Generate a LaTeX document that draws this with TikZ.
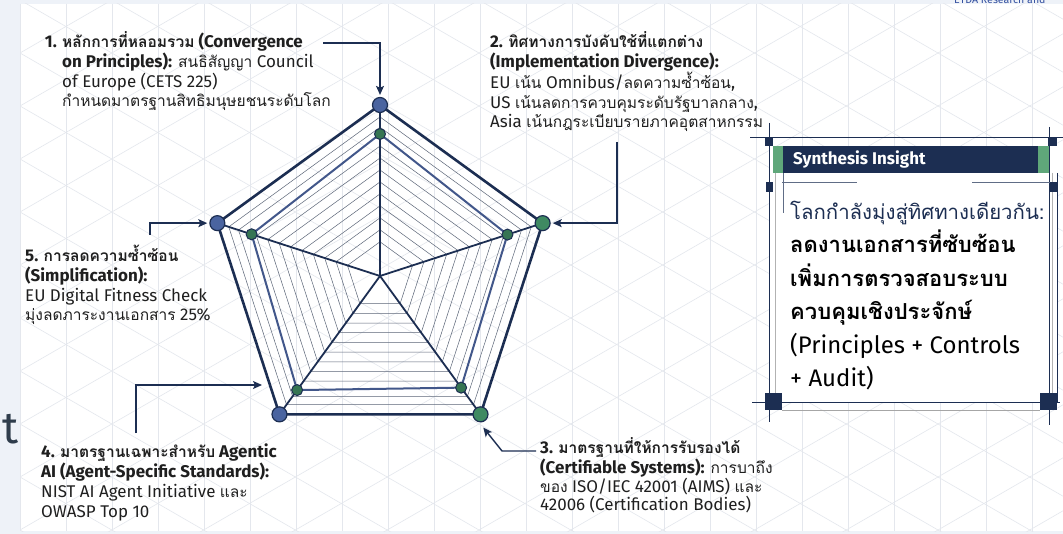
\documentclass[tikz,border=0pt]{standalone}
\usepackage{fontspec}
\setmainfont{Fira Sans}[Scale=1.06]
\newfontfamily\thaifont[Script=Thai, Scale=0.97]{Loma}
\newcommand\tha[1]{{\thaifont #1}}
\usetikzlibrary{arrows.meta,positioning,calc}
\definecolor{navy}{HTML}{1C2E52}
\definecolor{dotblue}{HTML}{4A64A0}
\definecolor{dotgreen}{HTML}{3F8A62}
\definecolor{datablue}{HTML}{42578A}
\definecolor{webgrey}{HTML}{5B6577}
\definecolor{gridgrey}{HTML}{E4E7ED}
\definecolor{pagebg}{HTML}{EEF2F8}
\definecolor{accent}{HTML}{5FA77A}
\definecolor{slate}{HTML}{2F3D4C}
\definecolor{etdablue}{HTML}{3350A0}
\tikzset{
callout/.style = {anchor=base west, align=left, inner sep=0pt, text=black!88, font=\fontsize{16}{19.7}\selectfont},
vertex/.style = {draw=navy, line width=1.2pt, circle, minimum size=15pt, inner sep=0pt},
datapt/.style = {draw=navy, line width=1pt, circle, fill=dotgreen!85!black, minimum size=11pt, inner sep=0pt},
link/.style = {draw=navy, line width=1.4pt, ->, shorten >=2pt},
web/.style = {draw=webgrey, line width=0.5pt},
tmp/.style = {coordinate}
}
\begin{document}
\begin{tikzpicture}[x=1pt, y=-1pt, >={Stealth[length=9pt,width=8pt,inset=2pt]}]
\useasboundingbox (0,0) rectangle (1063,534);

% page and grid paper
\fill[pagebg] (0,0) rectangle (1063,534);
\fill[white] (20,4) rectangle (1063,531);
\begin{scope}
  \clip (20,4) rectangle (1063,531);
  \foreach \gx in {20,66,...,1070}
    \draw[gridgrey, line width=0.6pt] (\gx,4) -- (\gx,531);
  \foreach \gy in {-636,-583,...,1170} {
    \draw[gridgrey, line width=0.6pt] (20,\gy) -- ++(1060,612);
    \draw[gridgrey, line width=0.6pt] (20,\gy) -- ++(1060,-612);
  }
\end{scope}
\node[anchor=base east, inner sep=0pt, text=slate, font=\fontsize{42}{42}\selectfont] (tfrag) at (19,443) {t};
\node[anchor=base west, inner sep=0pt, text=etdablue, font=\fontsize{10}{10}\selectfont] (etda) at (954,3.5) {ETDA Research and};

% radar
\begin{scope}[shift={(380,276)}]
  \coordinate (ctr) at (0,0);
  \coordinate (o1) at (-90:171);
  \coordinate (o2) at (-18:171);
  \coordinate (o3) at (54:171);
  \coordinate (o4) at (126:171);
  \coordinate (o5) at (198:171);
  \coordinate (i1) at (-90:142);
  \coordinate (i2) at (-18:134);
  \coordinate (i3) at (54:138);
  \coordinate (i4) at (126:141);
  \coordinate (i5) at (198:135);
  \foreach \l in {0.20,0.27,0.34,0.41,0.48,0.55,0.62,0.69,0.76,0.87,0.93}
    \draw[web] (-90:\l*171) -- (-18:\l*171) -- (54:\l*171) -- (126:\l*171) -- (198:\l*171) -- cycle;
  \draw[datablue, line width=2pt, line join=round] (i1) -- (i2) -- (i3) -- (i4) -- (i5) -- cycle;
  \foreach \i in {1,...,5}
    \draw[navy, line width=1.8pt] (ctr) -- (o\i);
  \draw[navy, line width=2.6pt, line join=round] (o1) -- (o2) -- (o3) -- (o4) -- (o5) -- cycle;
  \foreach \i in {1,...,5}
    \node[datapt] (d\i) at (i\i) {};
  \node[vertex, fill=dotblue] (v1) at (o1) {};
  \node[vertex, fill=dotgreen] (v2) at (o2) {};
  \node[vertex, fill=dotgreen] (v3) at (o3) {};
  \node[vertex, fill=dotblue] (v4) at (o4) {};
  \node[vertex, fill=dotblue] (v5) at (o5) {};
\end{scope}

% callouts (anchored on the last baseline)
\node[callout] (lbl1) at (62,107) {\llap{\textbf{1. }}\textbf{\tha{หลักการที่หลอมรวม} (Convergence}\\
  \textbf{on Principles):} \tha{สนธิสัญญา} Council\\
  of Europe (CETS 225)\\
  \tha{กำหนดมาตรฐานสิทธิมนุษยชนระดับโลก}};
\node[callout] (lbl2) at (490,128) {\textbf{2. \tha{ทิศทางการบังคับใช้ที่แตกต่าง}}\\
  \textbf{(Implementation Divergence):}\\
  EU \tha{เน้น} Omnibus/\tha{ลดความซ้ำซ้อน},\\
  US \tha{เน้นลดการควบคุมระดับรัฐบาลกลาง},\\
  Asia \tha{เน้นกฎระเบียบรายภาคอุตสาหกรรม}};
\node[callout] (lbl5) at (25,321) {\textbf{5. \tha{การลดความซ้ำซ้อน}}\\
  \textbf{(Simplification):}\\
  EU Digital Fitness Check\\
  \tha{มุ่งลดภาระงานเอกสาร} 25\%};
\node[callout] (lbl4) at (41,517) {\textbf{4. \tha{มาตรฐานเฉพาะสำหรับ} Agentic}\\
  \textbf{AI (Agent-Specific Standards):}\\
  NIST AI Agent Initiative \tha{และ}\\
  OWASP Top 10};
\node[callout, font=\fontsize{16}{17.7}\selectfont] (lbl3) at (540,510) {\textbf{3. \tha{มาตรฐานที่ให้การรับรองได้}}\\
  \textbf{(Certifiable Systems):} \tha{การบาถึง}\\
  \tha{ของ} ISO/IEC 42001 (AIMS) \tha{และ}\\
  42006 (Certification Bodies)};

\coordinate (a1) at (323,43);
\coordinate (a2) at (617,142);
\coordinate (a5) at (150,235);
\coordinate (a4) at (136,433);
\coordinate (t4) at (264,385);
\coordinate (a3) at (536,451);
\coordinate (b3) at (502,451);
\coordinate (t3) at (482,426);
\draw[link] (a1) -| (v1);
\draw[link] (a2) |- (v2);
\draw[link] (a5) |- (v5);
\draw[link] (a4) |- (t4);
\draw[link] (a3) -- (b3) -- (t3);

% insight box
\fill[white] (770,146) rectangle (1057,402);
\draw[navy, line width=0.8pt] (750,137) -- (1063,137);
\draw[navy, line width=0.8pt] (752,402) -- (1060,402);
\draw[black!35, line width=0.8pt] (782,410) -- (1040,410);
\draw[navy, line width=0.8pt] (769,123) -- (769,422);
\draw[navy, line width=0.8pt] (1049,127) -- (1049,425);
\draw[navy, line width=1pt] (1057,173) -- (1057,402);
\draw[black!30, line width=0.8pt] (775,173) -- (775,402);
\draw[black!30, line width=0.8pt] (1052,173) -- (1052,402);
\fill[navy] (773,146) rectangle (1050,173);
\fill[accent] (773,146) rectangle (783,173);
\fill[accent] (1038,146) rectangle (1049,173);
\fill[navy] (765,137) rectangle (773,146);
\fill[navy] (1048,137) rectangle (1057,146);
\fill[navy] (766,182) rectangle (773,192);
\fill[navy] (1049,182) rectangle (1057,192);
\fill[navy] (765,393) rectangle (782,410);
\fill[navy] (1040,393) rectangle (1057,410);
\draw[navy!70, line width=0.8pt] (782,182) -- (857,182);
\draw[navy!70, line width=0.8pt] (972,182) -- (1050,182);
\draw[navy!70, line width=0.8pt] (783,173) -- (783,213);
\node[anchor=west, inner sep=0pt, text=white, font=\bfseries\fontsize{16}{16}\selectfont] (head) at (793,159.5) {Synthesis Insight};
\node[anchor=base west, align=left, inner sep=0pt, font=\fontsize{22.6}{33.5}\selectfont] (insight) at (790,387) {{\fontsize{21}{33.5}\selectfont\textcolor{navy}{\tha{โลกกำลังมุ่งสู่ทิศทางเดียวกัน:}}}\\
  {\fontsize{22.7}{33.5}\selectfont\textbf{\tha{ลดงานเอกสารที่ซับซ้อน}}}\\
  {\fontsize{22.7}{33.5}\selectfont\textbf{\tha{เพิ่มการตรวจสอบระบบ}}}\\
  {\fontsize{22.7}{33.5}\selectfont\textbf{\tha{ควบคุมเชิงประจักษ์}}}\\
  (Principles + Controls\\
  + Audit)};
\end{tikzpicture}
\end{document}
